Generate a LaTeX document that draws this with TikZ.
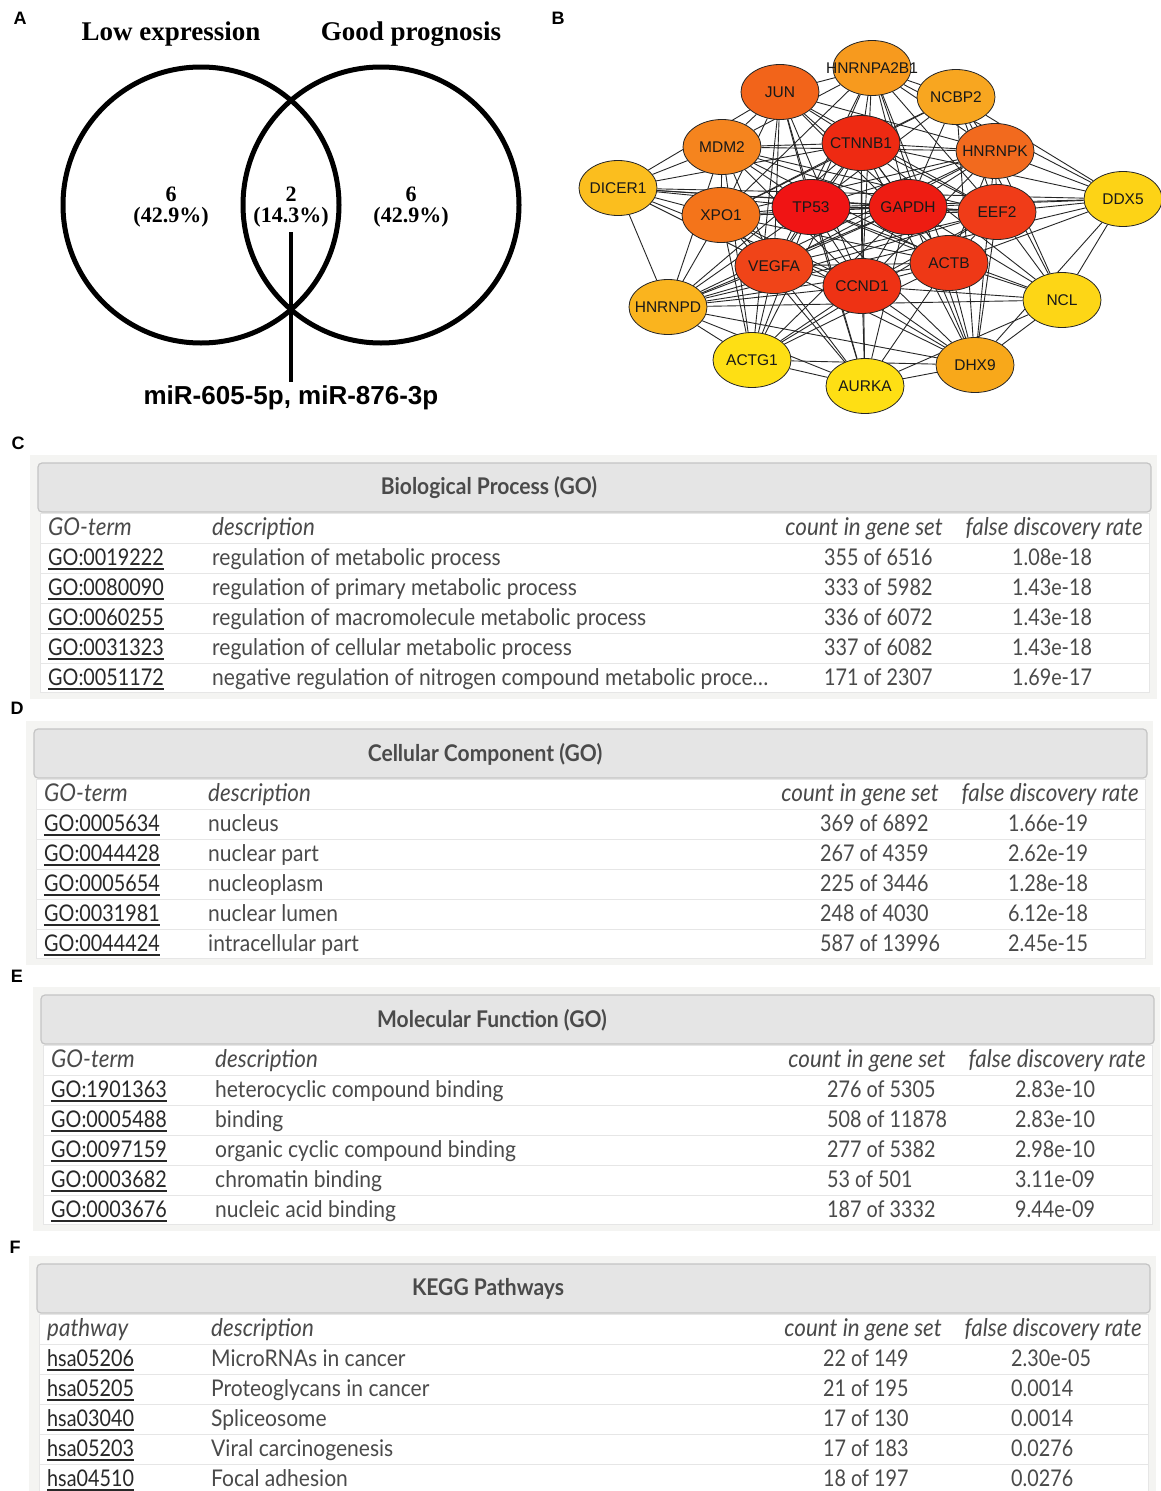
\documentclass[tikz,border=0pt]{standalone}
\usepackage{fontspec}
\setmainfont{Liberation Serif}
\newfontfamily\arialf{Liberation Sans}
\newfontfamily\tabf[FakeStretch=0.915]{Lato}
\newfontfamily\tabn[FakeStretch=0.86]{Lato}
\usetikzlibrary{shapes.geometric}
\pgfdeclarelayer{bg}
\pgfsetlayers{bg,main}
\definecolor{outerbg}{HTML}{F4F4F2}
\definecolor{hdrfill}{HTML}{E5E5E5}
\definecolor{hdrdraw}{HTML}{C4C4C4}
\definecolor{sepline}{HTML}{E6E6E6}
\definecolor{tabtxt}{HTML}{4A4A4A}
\definecolor{idtxt}{HTML}{282828}
\definecolor{cTP}{HTML}{F01414}
\definecolor{cGAP}{HTML}{EE1C12}
\definecolor{cCTN}{HTML}{EE2A12}
\definecolor{cCCN}{HTML}{EE3214}
\definecolor{cACTB}{HTML}{EE3816}
\definecolor{cEEF}{HTML}{F03C18}
\definecolor{cVEG}{HTML}{F04418}
\definecolor{cHNK}{HTML}{F26A1E}
\definecolor{cXPO}{HTML}{F4741A}
\definecolor{cJUN}{HTML}{F2641A}
\definecolor{cMDM}{HTML}{F5841E}
\definecolor{cA2B}{HTML}{F79A1E}
\definecolor{cNCBP}{HTML}{F8A620}
\definecolor{cDHX}{HTML}{F8A81A}
\definecolor{cHND}{HTML}{FAB41E}
\definecolor{cDIC}{HTML}{FBBE1E}
\definecolor{cDDX}{HTML}{FDD316}
\definecolor{cNCL}{HTML}{FDD616}
\definecolor{cACTG}{HTML}{FEDF14}
\definecolor{cAUR}{HTML}{FEDF14}
\newcommand\myul[1]{\setbox0\hbox{#1}\rlap{\rule[-4.5pt]{\wd0}{1.8pt}}\box0}
\newcommand\gotab[5]{%
\begin{scope}[shift={(#1,#2)}]
  \fill[outerbg] (-8,-8) rectangle (1119,236);
  \fill[white, draw=sepline] (2,50) rectangle (1111,229);
  \draw[hdrdraw, fill=hdrfill, line width=1.2pt, rounded corners=4pt] (0,0) rectangle (1113,49);
  \node[tabtitle] (t#2) at (451,25) {#3};
  \foreach \yy in {80,110,140,170,200} \draw[sepline, line width=1pt] (2,\yy) -- (1111,\yy);
  \node[tabhead, anchor=base west] (h1#2) at (10,72) {#4};
  \node[tabhead, anchor=base west] (h2#2) at (174,72) {description};
  \node[tabhead, anchor=base east] (h3#2) at (905,72) {count in gene set};
  \node[tabhead, anchor=base east] (h4#2) at (1105,72) {false discovery rate};
  \foreach \id/\desc/\cnt/\fdr [count=\i from 0] in {#5} {
    \node[tabid, anchor=base west] (id\i#2) at (10,102+30*\i) {\myul{\id}};
    \node[tabcell, anchor=base west] (ds\i#2) at (174,102+30*\i) {\desc};
    \node[tabnum, anchor=base west] (cn\i#2) at (786,102+30*\i) {\cnt};
    \node[tabnum, anchor=base west] (fd\i#2) at (974,102+30*\i) {\fdr};
  }
\end{scope}}
\begin{document}
\begin{tikzpicture}[x=1pt,y=-1pt,
  panel/.style={font=\arialf\bfseries\fontsize{18}{18}\selectfont, inner sep=0pt},
  venntitle/.style={font=\bfseries\fontsize{27}{27}\selectfont, inner sep=0pt},
  venntxt/.style={font=\bfseries\fontsize{22}{21}\selectfont, inner sep=0pt, align=center},
  gene/.style={ellipse, draw=black!85, line width=0.8pt, minimum width=78pt, minimum height=55pt, inner sep=0pt},
  genetxt/.style={font=\arialf\fontsize{15.5}{15.5}\selectfont, inner sep=0pt, text=black!90},
  edge/.style={line width=0.9pt, black!85},
  tabtitle/.style={font=\tabf\bfseries\fontsize{23}{23}\selectfont, text=tabtxt, inner sep=0pt},
  tabhead/.style={font=\tabf\itshape\fontsize{24.5}{24.5}\selectfont, text=tabtxt, inner sep=0pt},
  tabid/.style={font=\tabn\fontsize{23}{23}\selectfont, text=idtxt, inner sep=0pt},
  tabcell/.style={font=\tabf\fontsize{23}{23}\selectfont, text=tabtxt, inner sep=0pt},
  tabnum/.style={font=\tabn\fontsize{23}{23}\selectfont, text=tabtxt, inner sep=0pt}]
\begin{pgfonlayer}{bg}
\fill[white] (0,0) rectangle (1161,1491);
\end{pgfonlayer}
\useasboundingbox (0,0) rectangle (1161,1491);
% panel letters
\node[panel] (pA) at (20,18) {A};
\node[panel] (pB) at (558,18) {B};
\node[panel] (pC) at (18,443) {C};
\node[panel] (pD) at (17,708) {D};
\node[panel] (pE) at (17,976) {E};
\node[panel] (pF) at (15,1247) {F};
% Venn
\node[venntitle] (lowexp) at (171,34) {Low expression};
\node[venntitle] (goodp) at (411,34) {Good prognosis};
\draw[line width=5pt] (201,205) circle (138pt);
\draw[line width=5pt] (381,205) circle (138pt);
\node[venntxt] (l6) at (171,207) {6\\(42.9\%)};
\node[venntxt] (m2) at (291,207) {2\\(14.3\%)};
\node[venntxt] (r6) at (411,207) {6\\(42.9\%)};
\coordinate (vtop) at (291,232);
\node[font=\arialf\bfseries\fontsize{26}{26}\selectfont, inner sep=0pt] (mir) at (291,398) {miR-605-5p, miR-876-3p};
\draw[line width=4pt] (vtop) -- ([yshift=4pt]mir.north);
% network nodes
\foreach \n/\x/\y/\c/\t in {
 a2b/872/68/cA2B/HNRNPA2B1, jun/780/92/cJUN/JUN, ncbp/956/97/cNCBP/NCBP2,
 mdm/722/147/cMDM/MDM2, ctn/861/143/cCTN/CTNNB1, hnk/995/151/cHNK/HNRNPK,
 dic/618/188/cDIC/DICER1, ddx/1123/199/cDDX/DDX5, xpo/721/215/cXPO/XPO1,
 tp/811/207/cTP/TP53, gap/908/207/cGAP/GAPDH, eef/997/212/cEEF/EEF2,
 veg/774/266/cVEG/VEGFA, actb/949/263/cACTB/ACTB, ccn/862/286/cCCN/CCND1,
 hnd/668/307/cHND/HNRNPD, ncl/1062/300/cNCL/NCL, actg/752/360/cACTG/ACTG1,
 aur/865/386/cAUR/AURKA, dhx/975/365/cDHX/DHX9}
 \node[gene, fill=\c, label={[genetxt]center:\t}] (\n) at (\x,\y) {};
\begin{pgfonlayer}{bg}
\foreach \a/\b in {
 a2b/jun, a2b/ncbp, a2b/ctn, a2b/hnk, a2b/tp, a2b/gap, a2b/xpo, a2b/veg, a2b/dhx, a2b/eef, a2b/mdm, a2b/actb, a2b/ddx, a2b/ccn,
 jun/mdm, jun/ctn, jun/tp, jun/gap, jun/veg, jun/ccn, jun/xpo, jun/actb, jun/hnk, jun/eef, jun/actg, jun/aur, jun/dic,
 ncbp/hnk, ncbp/ctn, ncbp/xpo, ncbp/eef, ncbp/gap, ncbp/dhx, ncbp/ddx, ncbp/ncl, ncbp/tp,
 mdm/dic, mdm/xpo, mdm/tp, mdm/ctn, mdm/gap, mdm/hnk, mdm/ccn, mdm/veg, mdm/actb, mdm/eef, mdm/hnd, mdm/actg,
 ctn/tp, ctn/gap, ctn/eef, ctn/hnk, ctn/xpo, ctn/veg, ctn/actb, ctn/ccn, ctn/dic, ctn/hnd, ctn/actg, ctn/aur, ctn/dhx, ctn/ncl, ctn/ddx,
 hnk/eef, hnk/gap, hnk/tp, hnk/xpo, hnk/ddx, hnk/ncl, hnk/dhx, hnk/actb, hnk/ccn, hnk/veg, hnk/hnd,
 dic/xpo, dic/tp, dic/gap, dic/eef, dic/hnd, dic/veg, dic/ccn, dic/ddx,
 ddx/eef, ddx/gap, ddx/ncl, ddx/dhx, ddx/actb, ddx/hnd, ddx/tp,
 xpo/tp, xpo/gap, xpo/eef, xpo/veg, xpo/ccn, xpo/actb, xpo/hnd, xpo/actg, xpo/aur, xpo/dhx,
 tp/gap, tp/eef, tp/veg, tp/actb, tp/ccn, tp/hnd, tp/actg, tp/aur, tp/dhx, tp/ncl,
 gap/eef, gap/veg, gap/actb, gap/ccn, gap/hnd, gap/actg, gap/aur, gap/dhx, gap/ncl,
 eef/veg, eef/actb, eef/ccn, eef/ncl, eef/dhx, eef/hnd, eef/actg,
 veg/ccn, veg/actb, veg/hnd, veg/actg, veg/aur, veg/dhx,
 actb/ccn, actb/hnd, actb/ncl, actb/dhx, actb/actg, actb/aur,
 ccn/hnd, ccn/actg, ccn/aur, ccn/dhx, ccn/ncl,
 hnd/actg, hnd/aur, hnd/ncl, hnd/dhx,
 ncl/dhx, ncl/aur, actg/aur, actg/dhx, aur/dhx}
 \draw[edge] (\a) -- (\b);
\end{pgfonlayer}
% tables
\gotab{38}{463}{Biological Process (GO)}{GO-term}{
 GO:0019222/regulation of metabolic process/355 of 6516/1.08e-18,
 GO:0080090/regulation of primary metabolic process/333 of 5982/1.43e-18,
 GO:0060255/regulation of macromolecule metabolic process/336 of 6072/1.43e-18,
 GO:0031323/regulation of cellular metabolic process/337 of 6082/1.43e-18,
 GO:0051172/negative regulation of nitrogen compound metabolic proce\dots/171 of 2307/1.69e-17}
\gotab{34}{729}{Cellular Component (GO)}{GO-term}{
 GO:0005634/nucleus/369 of 6892/1.66e-19,
 GO:0044428/nuclear part/267 of 4359/2.62e-19,
 GO:0005654/nucleoplasm/225 of 3446/1.28e-18,
 GO:0031981/nuclear lumen/248 of 4030/6.12e-18,
 GO:0044424/intracellular part/587 of 13996/2.45e-15}
\gotab{41}{995}{Molecular Function (GO)}{GO-term}{
 GO:1901363/heterocyclic compound binding/276 of 5305/2.83e-10,
 GO:0005488/binding/508 of 11878/2.83e-10,
 GO:0097159/organic cyclic compound binding/277 of 5382/2.98e-10,
 GO:0003682/chromatin binding/53 of 501/3.11e-09,
 GO:0003676/nucleic acid binding/187 of 3332/9.44e-09}
\gotab{37}{1264}{KEGG Pathways}{pathway}{
 hsa05206/MicroRNAs in cancer/22 of 149/2.30e-05,
 hsa05205/Proteoglycans in cancer/21 of 195/0.0014,
 hsa03040/Spliceosome/17 of 130/0.0014,
 hsa05203/Viral carcinogenesis/17 of 183/0.0276,
 hsa04510/Focal adhesion/18 of 197/0.0276}
\end{tikzpicture}
\end{document}
